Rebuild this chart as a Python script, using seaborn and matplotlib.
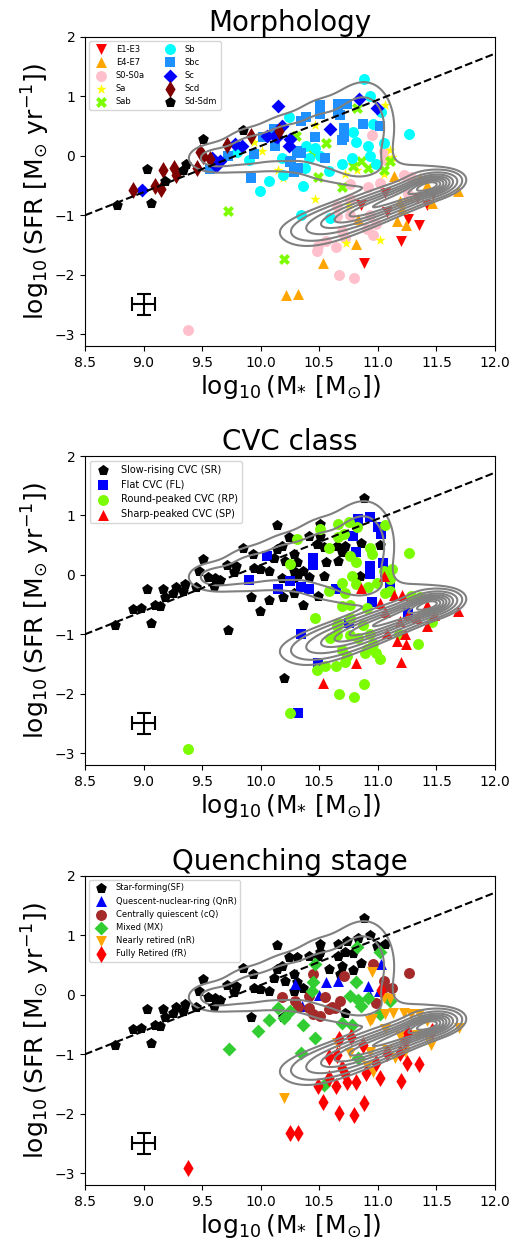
import numpy as np
import matplotlib
matplotlib.use("Agg")
import matplotlib.pyplot as plt
import seaborn as sns

# ---------------- data: panel 1 (morphology) ----------------
E13 = [(11.06,-0.62),(10.86,-0.82),(11.08,-0.95),(11.33,-0.71),(11.47,-0.65),(11.42,-0.82),
       (11.26,-1.06),(11.35,-1.16),(11.20,-1.44),(10.88,-1.81)]
E47 = [(11.14,-0.34),(11.36,-0.38),(11.42,-0.49),(11.68,-0.59),(11.19,-0.76),(11.26,-0.68),
       (11.21,-0.90),(11.16,-1.10),(11.24,-1.16),(11.46,-0.79),(10.83,-1.07),(10.81,-1.49),
       (10.53,-1.81),(10.22,-2.34),(10.32,-2.33)]
S0 = [(10.95,0.35),(11.05,0.08),(11.06,-0.07),(11.22,-0.32),(11.28,-0.36),(10.92,-0.52),
      (11.02,-0.45),(10.76,-0.48),(10.76,-0.73),(10.65,-0.85),(10.65,-1.02),(10.76,-1.00),
      (10.93,-0.99),(10.98,-1.14),(10.91,-1.23),(10.96,-1.33),(10.69,-1.26),(10.72,-1.38),
      (10.49,-1.51),(10.56,-1.44),(10.48,-1.60),(10.64,-1.54),(10.67,-2.01),(10.80,-2.05),
      (9.38,-2.93),(11.26,-0.64)]
SA = [(9.94,0.23),(10.01,0.08),(10.15,-0.24),(10.19,-0.38),(11.06,0.85),(10.46,0.52),
      (11.10,0.10),(11.12,-0.02),(11.10,-0.11),(10.82,-0.23),(10.72,-0.31),(10.46,-0.72),
      (10.75,-0.82),(10.73,-1.47),(11.02,-1.41),(11.05,-0.31)]
SAB = [(10.82,0.81),(10.30,0.33),(10.56,0.22),(10.44,0.07),(10.86,-0.08),(10.79,-0.17),
       (10.92,-0.21),(11.05,-0.24),(10.49,-0.36),(10.69,-0.53),(9.72,-0.92),(10.20,-1.74),
       (11.10,-0.08)]
SB = [(10.88,1.29),(10.93,1.00),(11.03,0.73),(10.96,0.54),(11.27,0.36),(11.05,0.22),
      (10.92,0.17),(10.93,0.00),(10.98,-0.14),(10.78,-0.03),(10.69,-0.13),(10.58,-0.25),
      (10.51,0.00),(10.46,0.14),(10.39,0.17),(10.36,-0.50),(10.81,0.23),(10.79,0.40),
      (10.34,-0.99),(10.59,-1.05),(10.24,0.65),(9.80,0.06),(9.90,-0.07),(10.18,-0.04),
      (10.07,-0.42),(9.99,-0.60),(10.19,-0.32),(10.41,-0.03),(10.38,-0.20)]
SBC = [(10.51,0.86),(10.51,0.70),(10.66,0.88),(10.74,0.88),(10.68,0.68),(10.71,0.47),
       (10.71,0.31),(10.87,0.54),(11.02,0.51),(10.34,0.59),(10.46,0.31),(10.55,-0.03),
       (10.31,0.08),(10.28,-0.25),(10.25,-0.11),(10.11,0.45),(10.02,0.32),(10.12,0.17),
       (9.94,0.03),(9.72,0.00),(9.57,-0.22),(9.92,-0.37),(10.26,-0.08),(10.28,-0.28),
       (10.39,0.66),(10.69,0.26),(10.32,-0.21),(10.66,0.76),(10.34,0.04)]
SC = [(10.15,0.84),(10.18,0.51),(10.12,0.34),(10.24,0.17),(9.78,0.20),(9.84,0.17),
      (9.58,-0.04),(9.65,-0.08),(9.62,-0.17),(8.99,-0.57),(10.84,0.96),(10.99,0.80),
      (10.59,0.45),(10.14,0.31),(10.25,0.28),(10.05,0.34)]
SCD = [(9.92,0.34),(9.71,0.18),(9.48,0.07),(9.57,-0.06),(9.46,-0.20),(9.17,-0.24),
       (9.26,-0.21),(9.28,-0.32),(9.10,-0.50),(9.15,-0.55),(8.91,-0.58),(9.51,0.00),
       (10.16,0.41)]
SDM = [(9.85,0.44),(9.51,0.29),(9.03,-0.22),(9.36,-0.14),(9.34,-0.24),(9.18,-0.42),
       (8.77,-0.82),(9.06,-0.80)]

# ---------------- data: panel 2 (CVC class) ----------------
SR = [(10.14,0.84),(10.24,0.64),(10.18,0.49),(9.85,0.45),(9.93,0.35),(10.14,0.44),(10.11,0.29),
      (9.51,0.27),(9.71,0.17),(9.79,0.15),(9.77,0.04),(9.94,0.12),(9.99,0.10),(10.07,0.07),
      (10.21,0.24),(10.18,-0.06),(10.28,0.07),(9.47,0.07),(9.55,-0.03),(9.61,-0.06),(9.60,-0.19),
      (9.65,-0.09),(9.45,-0.21),(9.35,-0.15),(9.34,-0.27),(9.28,-0.21),(9.17,-0.23),(9.25,-0.30),
      (9.03,-0.23),(9.18,-0.38),(9.10,-0.50),(9.14,-0.53),(8.91,-0.58),(8.98,-0.56),(8.76,-0.84),
      (9.06,-0.81),(9.92,-0.38),(10.07,-0.43),(9.99,-0.60),(10.19,-0.38),(10.28,-0.30),(9.72,-0.92),
      (10.88,1.30),(10.51,0.86),(10.51,0.66),(10.41,0.66),(10.48,0.52),(10.54,0.47),(10.65,0.49),
      (10.72,0.49),(10.86,0.53),(11.02,0.51),(10.69,0.38),(10.66,0.24),(10.56,0.21),(10.28,0.35),
      (10.31,0.21),(10.36,0.07),(10.32,0.01),(10.28,-0.06),(10.54,-0.02),(10.41,-0.04),(10.85,-0.02),
      (10.49,-0.36),(10.36,-0.50),(10.20,-1.74)]
FL = [(10.83,0.94),(10.93,0.97),(11.00,0.80),(11.03,0.69),(10.79,0.66),(10.81,0.38),(10.45,0.29),
      (10.45,0.17),(10.05,0.32),(10.93,0.15),(11.04,0.20),(10.93,0.01),(11.06,0.04),(10.34,-0.21),
      (10.41,-0.23),(10.64,-0.24),(10.95,-0.45),(9.90,-0.09),(10.15,-0.24),(10.25,-0.10),
      (10.34,-1.00),(10.32,-2.33),(11.26,-0.64),(10.75,-0.81),(10.49,-1.49),(11.10,-0.16)]
RP = [(10.66,0.86),(10.75,0.89),(10.82,0.80),(11.06,0.84),(10.71,0.69),(10.66,0.63),(10.93,0.46),
      (10.95,0.35),(11.27,0.36),(10.76,0.32),(10.81,0.21),(11.05,0.07),(11.12,0.10),(11.10,-0.07),
      (10.69,-0.13),(10.78,-0.02),(10.81,-0.16),(10.92,-0.21),(10.99,-0.13),(11.06,-0.30),
      (11.10,-0.27),(10.72,-0.30),(10.58,-0.27),(10.76,-0.50),(10.69,-0.53),(10.91,-0.55),
      (11.28,-0.36),(11.36,-0.37),(10.46,-0.72),(10.76,-0.72),(10.66,-0.81),(10.65,-0.86),
      (10.87,-0.85),(10.93,-0.99),(10.76,-1.02),(10.65,-1.02),(10.59,-1.06),(10.83,-1.07),
      (10.69,-1.26),(10.74,-1.36),(10.72,-1.46),(10.91,-1.24),(10.96,-1.17),(10.98,-1.32),
      (10.89,-1.32),(11.02,-1.42),(10.64,-1.54),(10.55,-1.54),(10.48,-1.60),(10.88,-1.84),
      (10.67,-2.00),(10.80,-2.05),(10.25,-2.33),(11.18,-0.99),(11.34,-1.17),(11.46,-0.79),
      (9.38,-2.93),(10.31,0.60),(10.51,0.77),(10.58,0.46),(10.25,0.18)]
SP = [(11.14,-0.34),(11.21,-0.34),(11.02,-0.47),(11.06,-0.62),(11.42,-0.50),(11.68,-0.60),
      (11.19,-0.77),(11.26,-0.68),(11.33,-0.72),(11.42,-0.86),(11.48,-0.67),(11.08,-0.98),
      (11.16,-1.11),(11.24,-1.17),(11.23,-1.00),(10.81,-1.49),(11.20,-1.46),(10.53,-1.82),
      (10.86,-0.22),(11.05,-0.02)]

# ---------------- data: panel 3 (quenching stage) ----------------
SF = [(10.14,0.84),(10.24,0.64),(10.18,0.49),(9.85,0.45),(9.93,0.35),(10.14,0.44),(10.11,0.29),
      (9.51,0.27),(9.71,0.17),(9.79,0.15),(9.77,0.04),(9.94,0.12),(9.99,0.10),(10.07,0.07),
      (10.21,0.24),(10.28,0.07),(9.47,0.07),(9.55,-0.03),(9.61,-0.06),(9.60,-0.19),(9.65,-0.09),
      (9.45,-0.21),(9.35,-0.15),(9.34,-0.27),(9.28,-0.21),(9.17,-0.23),(9.25,-0.30),(9.03,-0.23),
      (9.18,-0.38),(9.10,-0.50),(9.14,-0.53),(8.91,-0.58),(8.98,-0.56),(8.76,-0.84),(9.06,-0.81),
      (9.92,-0.38),(10.19,-0.38),(10.88,1.30),(10.51,0.86),(10.51,0.72),(10.66,0.86),(10.74,0.90),
      (10.83,0.96),(10.93,1.00),(10.99,0.83),(11.06,0.86),(10.41,0.66),(10.49,0.66),(10.31,0.63),
      (10.66,0.66),(10.72,0.72),(10.79,0.70),(10.86,0.53),(10.69,0.49),(10.58,0.44),(10.68,0.35),
      (10.79,0.41),(10.36,0.12),(10.28,0.35),(10.31,0.21),(10.72,-0.30)]
QNR = [(11.03,0.52),(10.56,0.21),(10.66,0.24),(10.50,-0.01),(10.92,0.15),(11.01,0.07),
       (10.93,-0.02),(10.29,0.19),(10.35,-0.19)]
CQ = [(10.96,0.52),(11.27,0.36),(10.45,0.35),(10.71,0.32),(11.05,0.24),(11.06,0.14),(10.29,-0.10),
      (10.32,-0.21),(10.41,-0.02),(10.55,-0.03),(10.61,-0.21),(10.68,-0.11),(10.58,-0.24),
      (10.45,-0.33),(10.51,-0.36),(10.98,-0.13),(10.18,-0.04),(10.41,-0.22),(11.12,0.11),(10.63,-0.22)]
MX = [(10.82,0.80),(11.02,0.72),(10.46,0.52),(10.45,0.21),(10.44,0.07),(10.81,0.21),(10.76,-0.02),
      (10.83,-0.09),(10.86,-0.19),(10.92,-0.05),(11.10,-0.10),(10.25,-0.27),(10.69,-0.47),
      (10.78,-0.50),(11.02,-0.33),(10.46,-0.72),(10.34,-0.98),(10.36,-0.50),(10.20,-0.39),
      (10.15,-0.22),(10.07,-0.43),(9.98,-0.60),(9.73,-0.91),(10.83,-1.06),(10.54,-1.52)]
NR = [(10.95,0.38),(11.10,-0.07),(11.06,-0.33),(11.13,-0.30),(11.22,-0.30),(11.28,-0.33),
      (11.35,-0.33),(11.42,-0.44),(11.69,-0.55),(10.93,-0.44),(11.06,-0.58),(11.19,-0.69),
      (11.33,-0.68),(10.65,-0.81),(10.76,-0.98),(10.93,-0.96),(11.08,-0.92),(11.45,-0.84),
      (11.23,-0.96),(10.91,-1.20),(10.96,-1.30),(11.15,-1.06),(10.20,-1.73),(10.95,-0.41),
      (11.05,-0.05),(11.43,-0.75)]
FR = [(10.67,-0.75),(10.77,-0.71),(10.87,-0.84),(10.58,-1.05),(10.65,-1.01),(10.69,-1.23),
      (10.72,-1.34),(10.74,-1.46),(10.81,-1.46),(10.90,-1.32),(10.98,-1.15),(11.02,-1.40),
      (11.08,-0.98),(11.19,-0.98),(11.25,-1.15),(11.35,-1.16),(11.20,-1.45),(10.49,-1.54),
      (10.58,-1.40),(10.64,-1.53),(10.53,-1.80),(10.88,-1.82),(10.67,-1.99),(10.80,-2.03),
      (10.32,-2.32),(10.25,-2.33),(9.38,-2.92),(11.46,-0.61),(11.26,-0.64),(11.23,-0.78),
      (11.03,0.08)]

# ---------------- background-sample density ----------------
# red sequence: components along its ridge (slope 0.75)
RED_CX = [11.47, 11.35, 11.23, 11.11, 10.99, 10.87, 10.75, 10.63, 10.51, 10.39, 10.27]
RED_CY = [-0.48, -0.57, -0.66, -0.75, -0.84, -0.93, -1.02, -1.11, -1.20, -1.29, -1.38]
RED_SA = [0.12] * 11
RED_SP = [0.090, 0.093, 0.097, 0.100, 0.105, 0.110, 0.115, 0.125, 0.135, 0.150, 0.165]
RED_AMP = [2.0, 0.95, 0.90, 0.85, 0.80, 0.75, 0.62, 0.45, 0.28, 0.14, 0.06]
RED_SLOPE = 0.75
# star-forming lobe + green-valley bridges (axis aligned)
BLOB_CX = [9.60, 9.90, 10.20, 10.50, 10.80, 10.95, 10.85, 11.35]
BLOB_CY = [-0.04, 0.10, 0.22, 0.30, 0.42, 0.50, -0.20, -0.25]
BLOB_SX = [0.15, 0.15, 0.15, 0.15, 0.15, 0.14, 0.20, 0.18]
BLOB_SY = [0.16, 0.235, 0.30, 0.42, 0.47, 0.47, 0.20, 0.12]
BLOB_AMP = [0.205, 0.205, 0.205, 0.205, 0.19, 0.15, 0.11, 0.09]
LEVELS = [0.075, 0.16, 0.35, 0.625, 0.925, 1.25, 1.575, 1.925, 2.25]

# main-sequence line, error bar
MS_X = [8.5, 12.0]
MS_Y = [-1.0, 1.72]
ERR_X, ERR_Y, ERR_DX, ERR_DY = 9.0, -2.5, 0.1, 0.17

XTICKS = [8.5, 9.0, 9.5, 10.0, 10.5, 11.0, 11.5, 12.0]
YTICKS = [-3, -2, -1, 0, 1, 2]


def density(X, Y):
    Z = np.zeros_like(X)
    n = np.hypot(1.0, RED_SLOPE)
    ux, uy = 1.0 / n, RED_SLOPE / n
    for cx, cy, sa, sp, a in zip(RED_CX, RED_CY, RED_SA, RED_SP, RED_AMP):
        u = (X - cx) * ux + (Y - cy) * uy
        v = -(X - cx) * uy + (Y - cy) * ux
        Z += a * np.exp(-0.5 * ((u / sa) ** 2 + (v / sp) ** 2))
    for cx, cy, sx, sy, a in zip(BLOB_CX, BLOB_CY, BLOB_SX, BLOB_SY, BLOB_AMP):
        Z += a * np.exp(-0.5 * (((X - cx) / sx) ** 2 + ((Y - cy) / sy) ** 2))
    return Z


gx = np.linspace(8.5, 12.0, 500)
gy = np.linspace(-3.2, 2.0, 500)
GX, GY = np.meshgrid(gx, gy)
GZ = density(GX, GY)

fig = plt.figure(figsize=(5.12, 12.49), dpi=100)
tops = [1 - 37 / 1249, 1 - 456 / 1249, 1 - 876 / 1249]
h = 309 / 1249
left, width = 85 / 512, 410 / 512

S = 62
panels = [
    ("Morphology", [
        (E13, "v", "red", "E1-E3", S),
        (E47, "^", "orange", "E4-E7", S),
        (S0, "o", "pink", "S0-S0a", S),
        (SA, "*", "yellow", "Sa", S),
        (SAB, "X", "lawngreen", "Sab", S),
        (SB, "o", "cyan", "Sb", S),
        (SBC, "s", "dodgerblue", "Sbc", S),
        (SC, "D", "blue", "Sc", 50),
        (SCD, "d", "maroon", "Scd", 75),
        (SDM, "p", "black", "Sd-Sdm", 65),
    ], dict(ncol=2, fontsize=6)),
    ("CVC class", [
        (SR, "p", "black", "Slow-rising CVC (SR)", 65),
        (FL, "s", "blue", "Flat CVC (FL)", S),
        (RP, "o", "lawngreen", "Round-peaked CVC (RP)", S),
        (SP, "^", "red", "Sharp-peaked CVC (SP)", S),
    ], dict(ncol=1, fontsize=7)),
    ("Quenching stage", [
        (SF, "p", "black", "Star-forming(SF)", 65),
        (QNR, "^", "blue", "Quescent-nuclear-ring (QnR)", S),
        (CQ, "o", "brown", "Centrally quiescent (cQ)", S),
        (MX, "D", "limegreen", "Mixed (MX)", 50),
        (NR, "v", "orange", "Nearly retired (nR)", S),
        (FR, "d", "red", "Fully Retired (fR)", 75),
    ], dict(ncol=1, fontsize=6)),
]

for top, (title, groups, legkw) in zip(tops, panels):
    ax = fig.add_axes([left, top - h, width, h])
    ax.contour(GX, GY, GZ, levels=LEVELS, colors="gray", linewidths=1.5)
    ax.plot(MS_X, MS_Y, "k--", lw=1.5)
    for pts, mk, col, lab, s in groups:
        xs = [p[0] for p in pts]
        ys = [p[1] for p in pts]
        sns.scatterplot(x=xs, y=ys, marker=mk, color=col, s=s, linewidth=0,
                        label=lab, ax=ax, legend=False)
    ax.errorbar([ERR_X], [ERR_Y], xerr=[ERR_DX], yerr=[ERR_DY], color="k",
                capsize=5, lw=1.5, capthick=1.5)
    ax.set_xlim(8.5, 12.0)
    ax.set_ylim(-3.2, 2.0)
    ax.set_xticks(XTICKS)
    ax.set_yticks(YTICKS)
    ax.tick_params(labelsize=10)
    ax.set_title(title, fontsize=20, pad=4)
    ax.set_xlabel(r"$\log_{10}(\mathrm{M}_{*}\ [\mathrm{M}_{\odot}])$", fontsize=18, labelpad=2)
    ax.set_ylabel(r"$\log_{10}(\mathrm{SFR}\ [\mathrm{M}_{\odot}\ \mathrm{yr}^{-1}])$",
                  fontsize=18, labelpad=2)
    ax.legend(loc="upper left", **legkw)

fig.savefig("out.png", dpi=100)
